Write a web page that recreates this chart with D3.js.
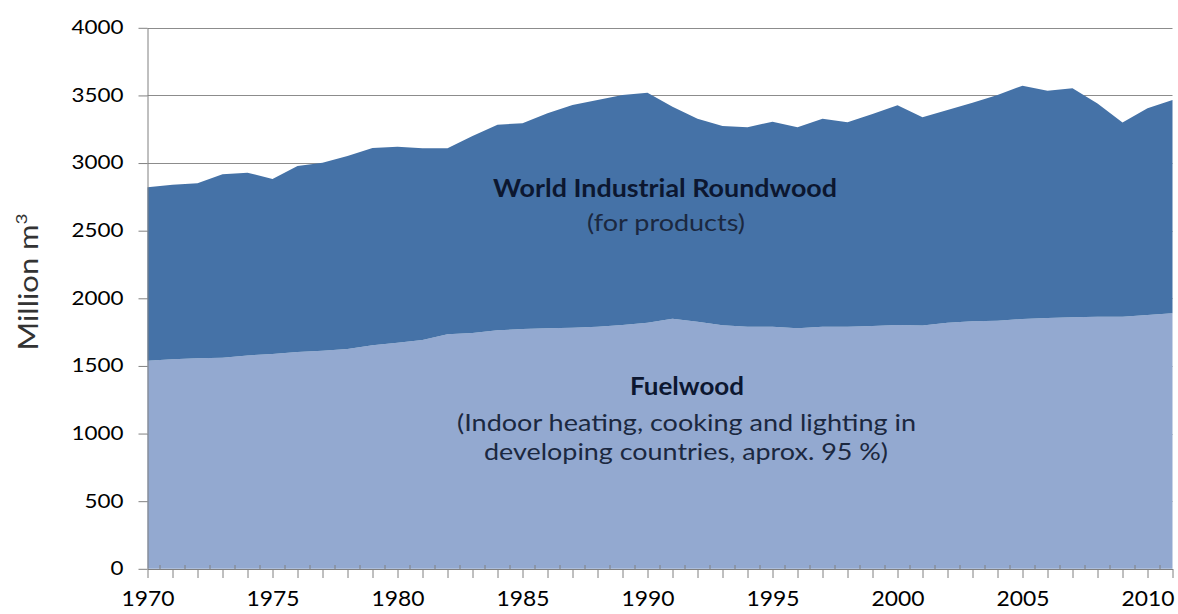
<!DOCTYPE html>
<html>
<head>
<meta charset="utf-8">
<script src="https://cdn.jsdelivr.net/npm/d3@7"></script>
<style>
  body { margin: 0; background: #fff; }
  text { font-family: Lato, "Open Sans", sans-serif; }
</style>
</head>
<body>
<div id="chart"></div>
<script>
var years = [1970, 1971, 1972, 1973, 1974, 1975, 1976, 1977, 1978, 1979,
	1980, 1981, 1982, 1983, 1984, 1985, 1986, 1987, 1988, 1989,
	1990, 1991, 1992, 1993, 1994, 1995, 1996, 1997, 1998, 1999,
	2000, 2001, 2002, 2003, 2004, 2005, 2006, 2007, 2008, 2009,
	2010, 2011];

// million m3
var fuelwood = [1539, 1549, 1556, 1561, 1578, 1588, 1603, 1613, 1625, 1652,
	1672, 1692, 1734, 1743, 1763, 1773, 1778, 1783, 1790, 1803,
	1820, 1849, 1827, 1800, 1790, 1790, 1778, 1790, 1790, 1795,
	1803, 1798, 1820, 1830, 1834, 1847, 1854, 1859, 1864, 1864,
	1876, 1889];
var industrial = [1282, 1291, 1294, 1356, 1351, 1294, 1375, 1390, 1427, 1459,
	1449, 1417, 1375, 1457, 1521, 1521, 1590, 1646, 1676, 1700,
	1700, 1568, 1501, 1474, 1474, 1516, 1486, 1538, 1511, 1568,
	1624, 1540, 1572, 1616, 1669, 1725, 1681, 1694, 1577, 1435,
	1529, 1577];

var y_ticks = [0, 500, 1000, 1500, 2000, 2500, 3000, 3500, 4000];
var x_labels = [1970, 1975, 1980, 1985, 1990, 1995, 2000, 2005, 2010];

var width = 1178;
var height = 614;

var svg = d3.select('#chart')
	.append('svg')
	.attr('width', width)
	.attr('height', height);

var rows = years.map(function (yr, i) {
	return { year: yr, fuel: fuelwood[i], ind: industrial[i] };
});

var stack = d3.stack().keys(['fuel', 'ind']);
var layers = stack(rows);

var x_scale = d3.scaleLinear()
	.domain([1970, 2011])
	.range([147.5, 1172.5]);
var y_scale = d3.scaleLinear()
	.domain([0, 4000])
	.range([568.8, 27.8]);

// gridlines
svg.append('g')
	.selectAll('line')
	.data(y_ticks.slice(1))
	.enter()
	.append('line')
	.attr('x1', 147.5)
	.attr('x2', 1172.5)
	.attr('y1', function (d) { return Math.round(y_scale(d)) + 0.5; })
	.attr('y2', function (d) { return Math.round(y_scale(d)) + 0.5; })
	.attr('stroke', '#8c8c8c')
	.attr('stroke-width', 1);

var area = d3.area()
	.x(function (d) { return x_scale(d.data.year); })
	.y0(function (d) { return y_scale(d[0]); })
	.y1(function (d) { return y_scale(d[1]); });

var colors = ['#93a9d0', '#4572a7'];

svg.append('g')
	.selectAll('path')
	.data(layers)
	.enter()
	.append('path')
	.attr('d', area)
	.attr('fill', function (d, i) { return colors[i]; });

// y axis
var y_axis = svg.append('g')
	.attr('transform', 'translate(147.5,0)')
	.call(d3.axisLeft(y_scale)
		.tickValues(y_ticks)
		.tickFormat(d3.format('d'))
		.tickSize(9)
		.tickSizeOuter(0)
		.tickPadding(15));
y_axis.selectAll('line').attr('stroke', '#808080');
y_axis.select('.domain').attr('stroke', '#808080');
y_axis.selectAll('text')
	.attr('font-size', 18.5)
	.attr('fill', '#000')
	.attr('textLength', function (d) { return String(d).length * 13; })
	.attr('lengthAdjust', 'spacingAndGlyphs')
	.style('font-family', 'Lato, sans-serif');

// x axis: minor ticks at half years, major at each year
var half_years = years.slice(0, -1).map(function (d) { return d + 0.5; });
svg.append('g')
	.selectAll('line')
	.data(half_years)
	.enter()
	.append('line')
	.attr('x1', function (d) { return x_scale(d); })
	.attr('x2', function (d) { return x_scale(d); })
	.attr('y1', 569)
	.attr('y2', 565)
	.attr('stroke', '#808080');

var x_axis = svg.append('g')
	.attr('transform', 'translate(0,569)')
	.call(d3.axisBottom(x_scale)
		.tickValues(years)
		.tickSize(9)
		.tickSizeOuter(0)
		.tickFormat(function (d) { return x_labels.indexOf(d) >= 0 ? d : ''; })
		.tickPadding(13));
x_axis.select('.domain').attr('stroke', '#808080');
x_axis.selectAll('line').attr('stroke', '#808080');
x_axis.selectAll('text')
	.filter(function (d) { return x_labels.indexOf(d) >= 0; })
	.attr('font-size', 21)
	.attr('fill', '#000')
	.attr('textLength', 53)
	.attr('lengthAdjust', 'spacingAndGlyphs')
	.style('font-family', 'Lato, sans-serif');

// y title
svg.append('text')
	.attr('transform', 'translate(38,282) rotate(-90)')
	.attr('text-anchor', 'middle')
	.attr('font-size', 26)
	.attr('fill', '#333')
	.attr('textLength', 137)
	.attr('lengthAdjust', 'spacingAndGlyphs')
	.html('Million m<tspan dy="-11" font-size="16">3</tspan>');

// in-chart labels
var notes = [
	{ text: 'World Industrial Roundwood', x: 665, y: 197, w: 344, bold: true },
	{ text: '(for products)', x: 666, y: 231, w: 158, bold: false },
	{ text: 'Fuelwood', x: 687, y: 395, w: 114, bold: true },
	{ text: '(Indoor heating, cooking and lighting in', x: 686.5, y: 431, w: 459, bold: false },
	{ text: 'developing countries, aprox. 95 %)', x: 686, y: 460, w: 404, bold: false }
];

svg.append('g')
	.selectAll('text')
	.data(notes)
	.enter()
	.append('text')
	.attr('x', function (d) { return d.x - d.w / 2; })
	.attr('y', function (d) { return d.y; })
	.attr('font-size', function (d) { return d.bold ? 24 : 23; })
	.attr('font-weight', function (d) { return d.bold ? 'bold' : 'normal'; })
	.attr('fill', function (d) { return d.bold ? '#0c1730' : '#1b2840'; })
	.attr('textLength', function (d) { return d.w; })
	.attr('lengthAdjust', 'spacingAndGlyphs')
	.text(function (d) { return d.text; });
</script>
</body>
</html>
